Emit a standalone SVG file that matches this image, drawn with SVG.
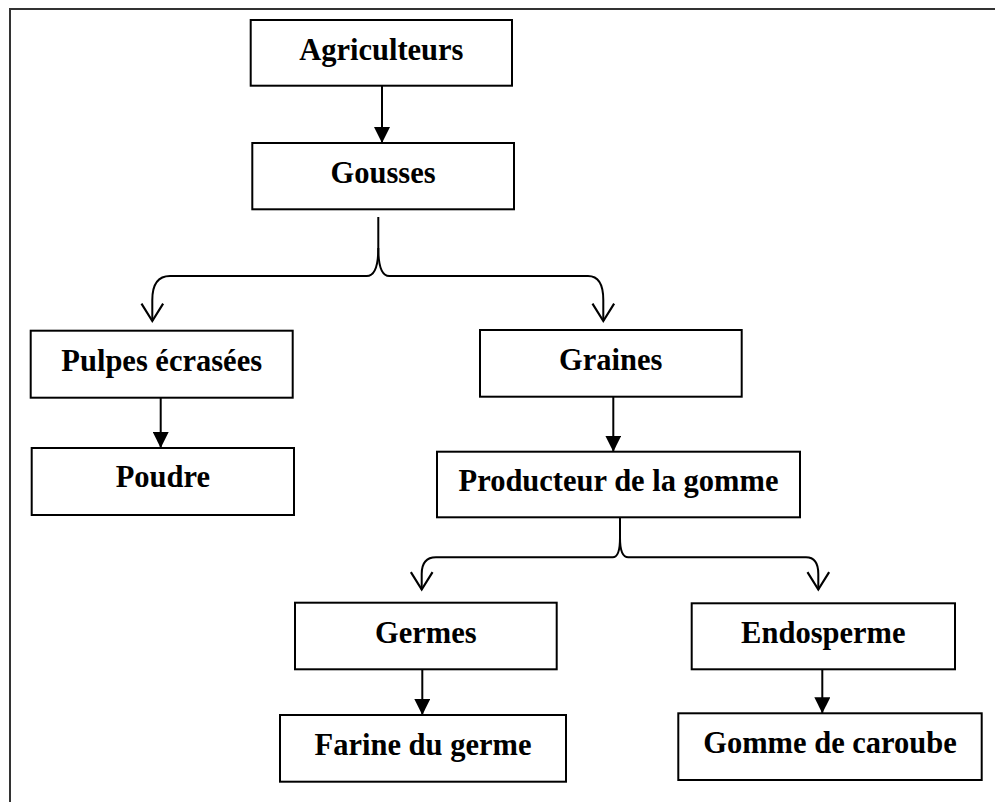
<svg xmlns="http://www.w3.org/2000/svg" width="995" height="802" viewBox="0 0 995 802">
<defs>
<style>
.box{fill:#fff;stroke:#000;stroke-width:2}
.lbl{font-family:"Liberation Serif","Times New Roman",serif;font-weight:bold;font-size:30.5px;fill:#000;text-anchor:middle}
.ln{fill:none;stroke:#000;stroke-width:2}
.frame{fill:none;stroke:#333;stroke-width:2}
</style>
<marker id="solid" markerUnits="userSpaceOnUse" markerWidth="16" markerHeight="16" viewBox="0 0 14 14" refX="14" refY="7" orient="auto">
<path d="M0,0 L14,7 L0,14 z" fill="#000"/>
</marker>
<marker id="open" markerUnits="userSpaceOnUse" markerWidth="22" markerHeight="26" viewBox="-1 -2 19 24" refX="16" refY="10" orient="auto">
<path d="M0,0 L16,10 L0,20" fill="none" stroke="#000" stroke-width="2"/>
</marker>
</defs>
<rect width="995" height="802" fill="#fff"/>
<path class="frame" d="M10,802 L10,9 L995,9"/>

<g id="connectors">
<line class="ln" x1="382" y1="86" x2="382" y2="143" marker-end="url(#solid)"/>
<path class="ln" d="M378.3,217 L378.3,248 Q378.3,276 366.7,276 L170,276 Q152.3,276 152.3,300 L152.3,321" marker-end="url(#open)"/>
<path class="ln" d="M378.3,248 Q378.3,276 389.3,276 L588,276 Q603.3,276 603.3,300 L603.3,321" marker-end="url(#open)"/>
<line class="ln" x1="160.7" y1="398" x2="160.7" y2="448" marker-end="url(#solid)"/>
<line class="ln" x1="613.3" y1="397" x2="613.3" y2="451.7" marker-end="url(#solid)"/>
<path class="ln" d="M620,512.7 L620,538 Q620,557.3 612.7,557.3 L436,557.3 Q421.7,557.3 421.7,574 L421.7,589.5" marker-end="url(#open)"/>
<path class="ln" d="M620,538 Q620,557.3 628.3,557.3 L806,557.3 Q818.3,557.3 818.3,574 L818.3,589.5" marker-end="url(#open)"/>
<line class="ln" x1="422.3" y1="669.5" x2="422.3" y2="715" marker-end="url(#solid)"/>
<line class="ln" x1="822.3" y1="669.5" x2="822.3" y2="713.3" marker-end="url(#solid)"/>
</g>

<g id="agriculteurs">
<rect class="box" x="250.7" y="20" width="261.3" height="65.7"/>
<text class="lbl" x="381.3" y="60">Agriculteurs</text>
</g>
<g id="gousses">
<rect class="box" x="252.3" y="143" width="261.7" height="66.3"/>
<text class="lbl" x="383" y="183">Gousses</text>
</g>
<g id="pulpes">
<rect class="box" x="30.7" y="330.7" width="262" height="67"/>
<text class="lbl" x="161.7" y="370.7">Pulpes écrasées</text>
</g>
<g id="poudre">
<rect class="box" x="31.7" y="448" width="262.3" height="67"/>
<text class="lbl" x="162.8" y="487">Poudre</text>
</g>
<g id="graines">
<rect class="box" x="480" y="330" width="261.7" height="66.7"/>
<text class="lbl" x="610.8" y="370">Graines</text>
</g>
<g id="producteur">
<rect class="box" x="437" y="451.7" width="363" height="65.6"/>
<text class="lbl" x="618.5" y="491">Producteur de la gomme</text>
</g>
<g id="germes">
<rect class="box" x="295" y="602.7" width="261.7" height="66.6"/>
<text class="lbl" x="425.8" y="642.7">Germes</text>
</g>
<g id="endosperme">
<rect class="box" x="691.7" y="603.3" width="263.3" height="66"/>
<text class="lbl" x="823.3" y="642.7">Endosperme</text>
</g>
<g id="farine">
<rect class="box" x="280" y="715" width="286" height="66.7"/>
<text class="lbl" x="423" y="755">Farine du germe</text>
</g>
<g id="gomme">
<rect class="box" x="678.3" y="713.3" width="303.4" height="66.7"/>
<text class="lbl" x="830" y="753">Gomme de caroube</text>
</g>
</svg>
